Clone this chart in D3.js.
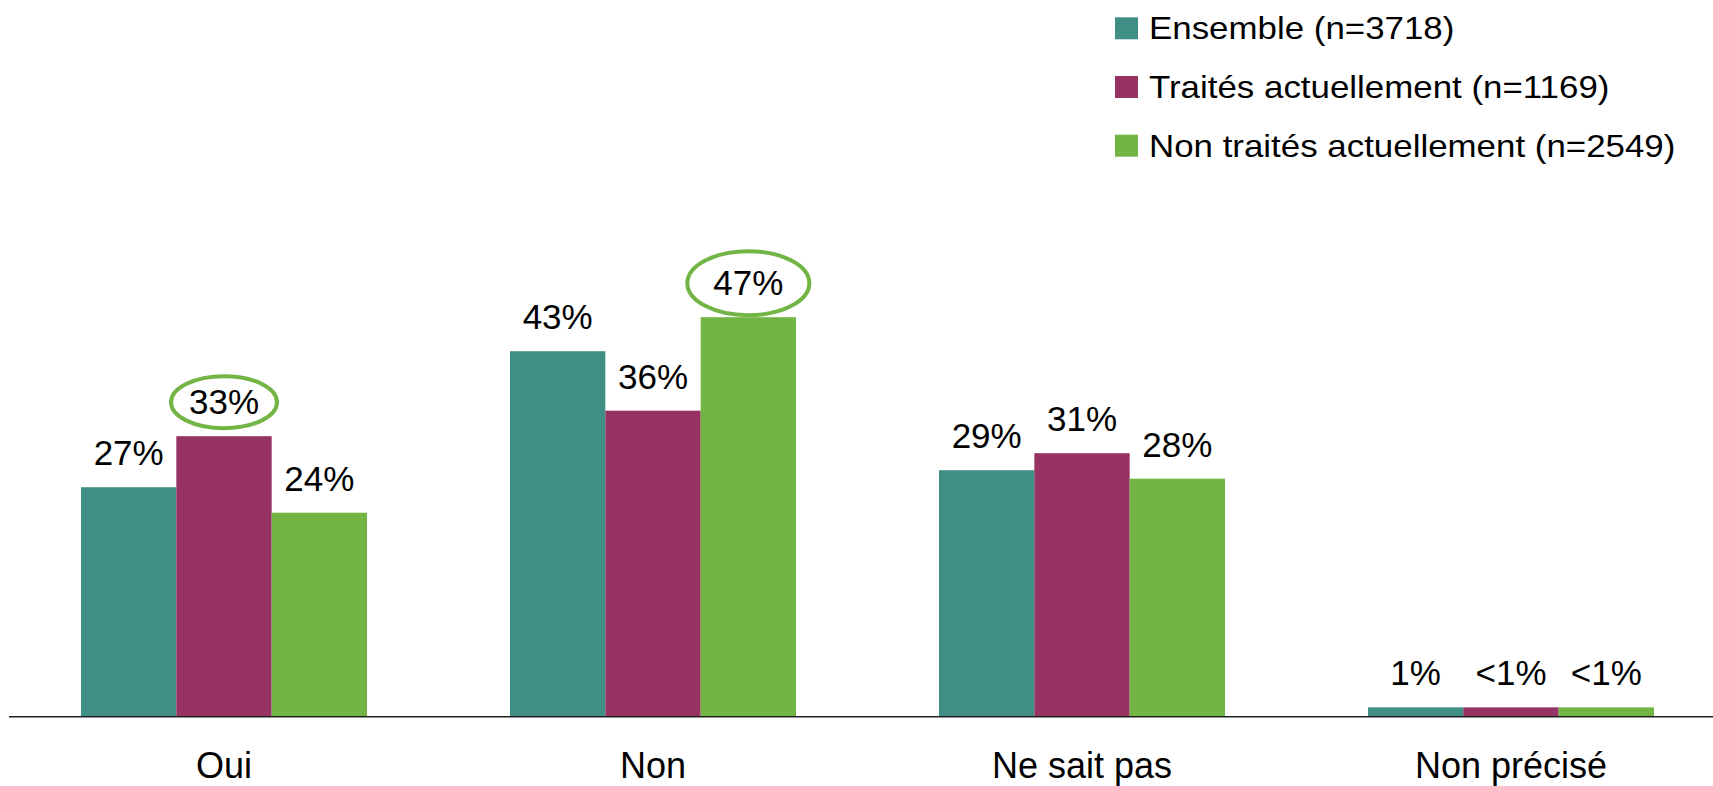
<!DOCTYPE html>
<html>
<head>
<meta charset="utf-8">
<script src="https://cdn.jsdelivr.net/npm/d3@7"></script>
<style>
  body { margin: 0; background: #fff; }
  text { font-family: "Liberation Sans", Arial, sans-serif; fill: #000; }
</style>
</head>
<body>
<div id="chart"></div>
<script>
// data
var categories = ["Oui", "Non", "Ne sait pas", "Non précisé"];
var seriesNames = ["Ensemble (n=3718)", "Traités actuellement (n=1169)", "Non traités actuellement (n=2549)"];
var ensemble = [27, 43, 29, 1.1];
var traites = [33, 36, 31, 1.1];
var nonTraites = [24, 47, 28, 1.1];
var ensembleLabels = ["27%", "43%", "29%", "1%"];
var traitesLabels = ["33%", "36%", "31%", "<1%"];
var nonTraitesLabels = ["24%", "47%", "28%", "<1%"];
// circled labels: [category, series]
var highlights = [["Oui", 1], ["Non", 2]];

var colors = ["#408F86", "#973363", "#72B544"];

var width = 1713, height = 786;
var baseline = 716.7;

var svg = d3.select("#chart").append("svg")
    .attr("width", width)
    .attr("height", height);

// set the ranges
var x0 = d3.scaleBand().domain(categories).range([9.5, 1725.5]).padding(0);
var groupWidth = 286;
var x1 = d3.scaleBand().domain([0, 1, 2]).range([0, groupWidth]).padding(0);
var y = d3.scaleLinear().domain([0, 50]).range([baseline, baseline - 425]);

var values = [ensemble, traites, nonTraites];
var labels = [ensembleLabels, traitesLabels, nonTraitesLabels];

var rows = [];
categories.forEach(function(c, i) {
    values.forEach(function(v, s) {
        rows.push({cat: c, s: s, value: v[i], label: labels[s][i]});
    });
});

function barX(d) {
    return x0(d.cat) + (x0.bandwidth() - groupWidth) / 2 + x1(d.s);
}

svg.selectAll("rect.bar")
    .data(rows)
    .enter().append("rect")
        .attr("class", "bar")
        .attr("x", barX)
        .attr("width", x1.bandwidth())
        .attr("y", function(d) { return y(d.value); })
        .attr("height", function(d) { return baseline - y(d.value); })
        .attr("fill", function(d) { return colors[d.s]; });

// value labels
svg.selectAll("text.val")
    .data(rows)
    .enter().append("text")
        .attr("class", "val")
        .attr("x", function(d) { return barX(d) + x1.bandwidth() / 2; })
        .attr("y", function(d) { return y(d.value) - 22; })
        .attr("text-anchor", "middle")
        .style("font-size", "35px")
        .text(function(d) { return d.label; });

// circled labels
var ringSize = [[53, 26], [61, 32]];
highlights.forEach(function(h, k) {
    var d = rows.filter(function(r) { return r.cat === h[0] && r.s === h[1]; })[0];
    svg.append("ellipse")
        .attr("cx", barX(d) + x1.bandwidth() / 2)
        .attr("cy", y(d.value) - 34)
        .attr("rx", ringSize[k][0])
        .attr("ry", ringSize[k][1])
        .attr("fill", "none")
        .attr("stroke", colors[2])
        .attr("stroke-width", 4);
});

// axis line
svg.append("line")
    .attr("x1", 9).attr("x2", width)
    .attr("y1", baseline).attr("y2", baseline)
    .attr("stroke", "#222")
    .attr("stroke-width", 1.5);

// category labels
svg.selectAll("text.cat")
    .data(categories)
    .enter().append("text")
        .attr("class", "cat")
        .attr("x", function(d) { return x0(d) + x0.bandwidth() / 2; })
        .attr("y", 778)
        .attr("text-anchor", "middle")
        .style("font-size", "36px")
        .text(function(d) { return d; });

// legend
seriesNames.forEach(function(name, i) {
    var ly = 39.3 + i * 58.7;
    svg.append("rect")
        .attr("x", 1115).attr("y", ly - 22)
        .attr("width", 23).attr("height", 22)
        .attr("fill", colors[i]);
    svg.append("text")
        .attr("transform", "translate(1149," + ly + ") scale(1.09,1)")
        .style("font-size", "32px")
        .text(name);
});
</script>
</body>
</html>
